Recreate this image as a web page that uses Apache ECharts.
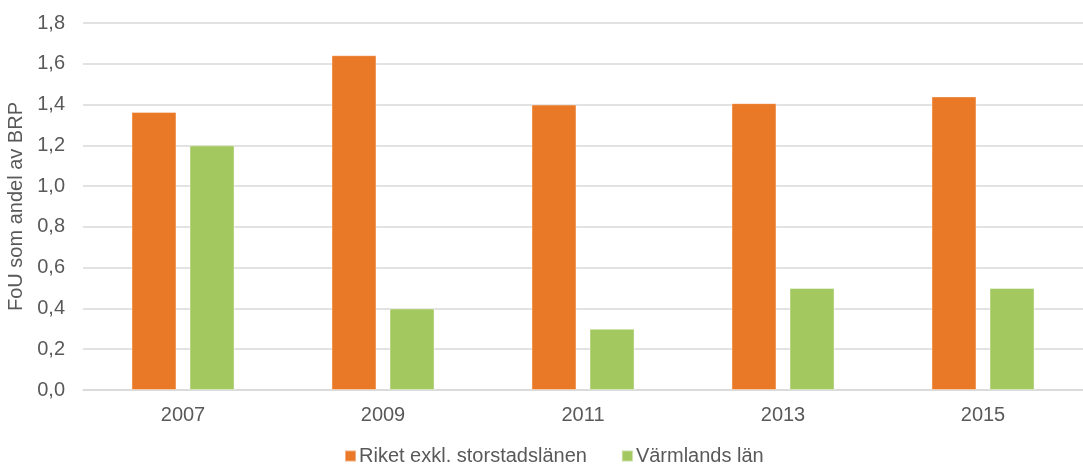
<!DOCTYPE html>
<html>
<head>
<meta charset="utf-8">
<script src="https://cdn.jsdelivr.net/npm/echarts@6/dist/echarts.min.js"></script>
<style>
  html, body { margin: 0; padding: 0; background: #fff; }
  #chart { width: 1083px; height: 464px; }
</style>
</head>
<body>
<div id="chart"></div>
<script>
const years = ['2007', '2009', '2011', '2013', '2015'];
const riket = [1.364, 1.642, 1.40, 1.407, 1.44];
const varmland = [1.2, 0.4, 0.3, 0.5, 0.5];

const textColor = '#595959';
const font = 'Liberation Sans, Arial, sans-serif';

let chart = echarts.init(document.getElementById('chart'));
chart.setOption({
  animation: false,
  textStyle: { fontFamily: font },
  grid: { left: 83, right: 0, top: 23, bottom: 74, outerBoundsMode: 'none' },
  legend: {
    bottom: -7,
    left: 339,
    itemWidth: 11,
    itemHeight: 11,
    itemGap: 34,
    icon: 'rect',
    textStyle: { color: textColor, fontSize: 20, fontFamily: font, padding: [0, 0, 0, -2] },
    data: ['Riket exkl. storstadslänen', 'Värmlands län']
  },
  xAxis: {
    type: 'category',
    data: years,
    axisTick: { show: false },
    axisLine: { lineStyle: { color: '#d9d9d9', width: 1.5 } },
    axisLabel: { color: textColor, fontSize: 20, margin: 15 }
  },
  yAxis: {
    type: 'value',
    min: 0,
    max: 1.8,
    interval: 0.2,
    name: 'FoU som andel av BRP',
    nameLocation: 'middle',
    nameGap: 55,
    nameTextStyle: { color: textColor, fontSize: 20 },
    axisLabel: {
      color: textColor,
      fontSize: 20,
      margin: 18,
      formatter: v => v.toFixed(1).replace('.', ',')
    },
    splitLine: { lineStyle: { color: '#d9d9d9', width: 1.5 } }
  },
  series: [
    {
      name: 'Riket exkl. storstadslänen',
      type: 'bar',
      data: riket,
      barWidth: 45,
      barGap: '29%',
      itemStyle: { color: '#E97927', borderColor: 'rgba(255,255,255,0.4)', borderWidth: 1 }
    },
    {
      name: 'Värmlands län',
      type: 'bar',
      data: varmland,
      barWidth: 45,
      itemStyle: { color: '#A2C85F', borderColor: 'rgba(255,255,255,0.4)', borderWidth: 1 }
    }
  ]
});
</script>
</body>
</html>
